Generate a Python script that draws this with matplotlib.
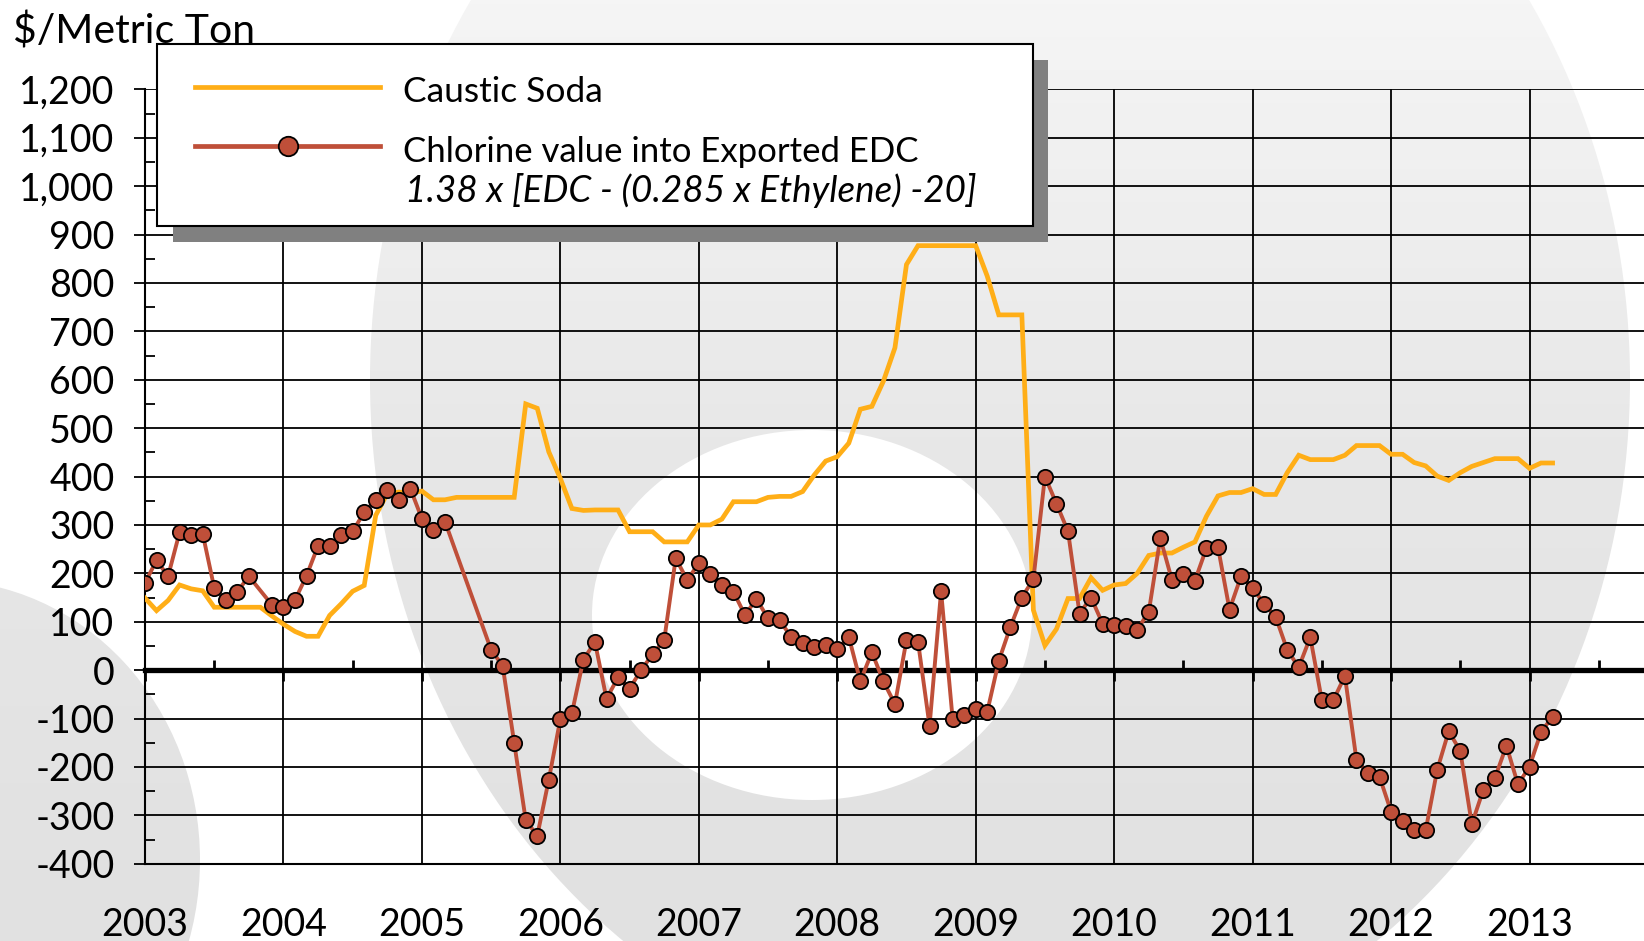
import numpy as np
import matplotlib
matplotlib.use("Agg")
import matplotlib.pyplot as plt
from matplotlib.patches import Ellipse, Rectangle
from matplotlib.lines import Line2D
from matplotlib.colors import LinearSegmentedColormap

plt.rcParams['font.family'] = ['Lato', 'DejaVu Sans']

# ---------------- data ----------------
start_year = 2003
# month index (0 = Jan 2003) for chlorine series (some months missing)
chlorine_months = ([0, 1, 2, 3, 4, 5, 6, 7, 8, 9] + list(range(11, 27)) + list(range(30, 123)))
chlorine_values = [
    180, 227, 194, 285, 279, 282, 170, 145, 162, 194,            # 2003 (Oct missing)
    135, 130, 145, 195, 257, 257, 279, 287, 326, 352, 373, 352, 375,  # Dec03-Dec04
    313, 290, 307,                                                # Jan-Mar 2005
    42, 9, -150, -310, -342, -226,                                # Jul-Dec 2005
    -101, -89, 22, 58, -59, -15, -38, 0, 33, 62, 231, 186,        # 2006
    221, 199, 176, 162, 114, 147, 107, 103, 69, 57, 48, 52,       # 2007
    43, 69, -23, 37, -23, -70, 62, 59, -115, 163, -101, -93,      # 2008
    -80, -86, 19, 89, 150, 188, 400, 344, 287, 117, 150, 96,      # 2009
    94, 92, 84, 120, 273, 187, 198, 185, 252, 254, 125, 194,      # 2010
    170, 137, 110, 42, 6, 68, -62, -62, -12, -185, -213, -220,    # 2011
    -292, -312, -331, -331, -206, -126, -167, -318, -247, -223, -156, -236,  # 2012
    -199, -128, -96,                                              # 2013
]

caustic_months = list(range(0, 123))
caustic_values = [
    149, 123, 144, 176, 168, 164, 130, 130, 130, 130, 130, 112,   # 2003
    95, 80, 70, 70, 113, 137, 163, 175, 320, 365, 368, 366,       # 2004
    370, 352, 352, 357, 357, 357, 357, 357, 357, 550, 541, 451,   # 2005
    396, 334, 330, 331, 331, 331, 286, 286, 286, 265, 265, 265,   # 2006
    300, 300, 312, 348, 348, 348, 357, 359, 359, 369, 403, 432,   # 2007
    441, 469, 539, 545, 597, 666, 838, 877, 877, 877, 877, 877,   # 2008
    877, 814, 734, 734, 734, 124, 51, 85, 148, 148, 191, 165,     # 2009
    176, 179, 200, 237, 242, 242, 254, 265, 318, 360, 367, 367,   # 2010
    375, 363, 363, 408, 444, 435, 435, 435, 444, 464, 464, 464,   # 2011
    446, 446, 429, 422, 401, 392, 408, 421, 429, 437, 437, 437,   # 2012
    417, 428, 428,                                                # 2013
]

year_ticks = list(range(2003, 2014))
y_ticks = list(range(-400, 1201, 100))

series_labels = ["Caustic Soda", "Chlorine value into Exported EDC"]
formula_label = "1.38 x [EDC - (0.285 x Ethylene) -20]"
y_title = "$/Metric Ton"

ORANGE = "#FFAE17"
RED = "#BF4F39"

# ---------------- figure ----------------
W, H = 1644, 941
fig = plt.figure(figsize=(W / 100, H / 100), dpi=100)
fig.patch.set_facecolor("white")

# background watermark (pixel coordinates)
bg = fig.add_axes([0, 0, 1, 1], zorder=0)
bg.set_xlim(0, W)
bg.set_ylim(H, 0)
bg.axis("off")
grey_cmap = LinearSegmentedColormap.from_list("g", ["#F5F5F5", "#E7E7E7", "#E1E1E1"])
grad = np.linspace(0, 1, 256).reshape(-1, 1)
big = Ellipse((1000, 380), 1260, 1400, facecolor="none", lw=0)
bg.add_patch(big)
im = bg.imshow(grad, cmap=grey_cmap, extent=(0, W, H, 0), aspect="auto", zorder=0)
im.set_clip_path(big)
bg.add_patch(Ellipse((812, 615), 440, 370, color="white", lw=0, zorder=1))
blob = Ellipse((-60, 860), 520, 560, facecolor="none", lw=0)
bg.add_patch(blob)
im2 = bg.imshow(grad, cmap=grey_cmap, extent=(0, W, H, 0), aspect="auto", zorder=0)
im2.set_clip_path(blob)
bg.set_xlim(0, W)
bg.set_ylim(H, 0)

# main axes
x2003 = 145.0
px_per_year = 138.45
xmax = start_year + (W - x2003) / px_per_year
ytop_px, ybot_px = 89.3, 863.8
ax = fig.add_axes([x2003 / W, 1 - ybot_px / H, (W - x2003) / W, (ybot_px - ytop_px) / H], zorder=1)
ax.set_facecolor("none")
ax.set_xlim(start_year, xmax)
ax.set_ylim(-400, 1200)

# grid
ax.set_yticks(y_ticks)
ax.set_yticks(np.arange(-350, 1200, 100), minor=True)
ax.set_yticklabels([f"{v:,}" for v in y_ticks])
ax.set_xticks(year_ticks)
ax.set_xticklabels([str(y) for y in year_ticks])
ax.grid(True, which="major", color="black", lw=1.3)
ax.set_axisbelow(True)

for s in ["top", "right"]:
    ax.spines[s].set_visible(False)
ax.spines["left"].set_linewidth(1.5)
ax.spines["bottom"].set_linewidth(1.5)

ax.tick_params(axis="y", which="major", direction="out", length=8, width=1.3,
               labelsize=27, pad=14)
ax.tick_params(axis="y", which="minor", direction="in", length=7, width=1.3)
ax.tick_params(axis="x", which="major", length=0, labelsize=27, pad=31)

# zero line with its ticks
zero_frac = (0 - (-400)) / 1600
sec = ax.secondary_xaxis(zero_frac)
sec.spines["bottom"].set_linewidth(3.8)
sec.set_xticks(year_ticks)
sec.set_xticks([y + 0.5 for y in year_ticks], minor=True)
sec.tick_params(axis="x", which="major", direction="out", length=8, width=2, labelbottom=False)
sec.tick_params(axis="x", which="minor", direction="in", length=7, width=2)
sec.set_xticklabels([])

# series
cx = [start_year + m / 12 for m in caustic_months]
kx = [start_year + m / 12 for m in chlorine_months]
ax.plot(cx, caustic_values, color=ORANGE, lw=3.4, zorder=3, solid_joinstyle="miter")
ax.plot(kx, chlorine_values, color=RED, lw=2.8, marker="o", ms=11,
        mfc=RED, mec="black", mew=1.3, zorder=4)

# title
fig.text(12.6 / W, 1 - 43.5 / H, y_title, fontsize=29.5, va="baseline", ha="left")

# legend overlay (pixel coordinates)
lg = fig.add_axes([0, 0, 1, 1], zorder=5)
lg.set_xlim(0, W)
lg.set_ylim(H, 0)
lg.axis("off")
lg.patch.set_alpha(0)
lg.add_patch(Rectangle((173, 60), 1048 - 173, 241.7 - 60, color="#808080", lw=0))
lg.add_patch(Rectangle((157, 43.5), 1033 - 157, 225.5 - 43.5, facecolor="white",
                       edgecolor="black", lw=1.5))
lg.add_line(Line2D([195, 379.5], [87.3, 87.3], color=ORANGE, lw=3.4))
lg.add_line(Line2D([195, 379.5], [145.7, 145.7], color=RED, lw=3.4))
lg.add_line(Line2D([288], [145.7], marker="o", ms=14, mfc=RED, mec="black", mew=1.3))
lg.text(403, 101.5, series_labels[0], fontsize=25.5, va="baseline", ha="left")
lg.text(403, 161.5, series_labels[1], fontsize=25, va="baseline", ha="left")
lg.text(405, 201.5, formula_label, fontsize=26.5, style="italic", va="baseline", ha="left")

fig.savefig("out.png", dpi=100)
